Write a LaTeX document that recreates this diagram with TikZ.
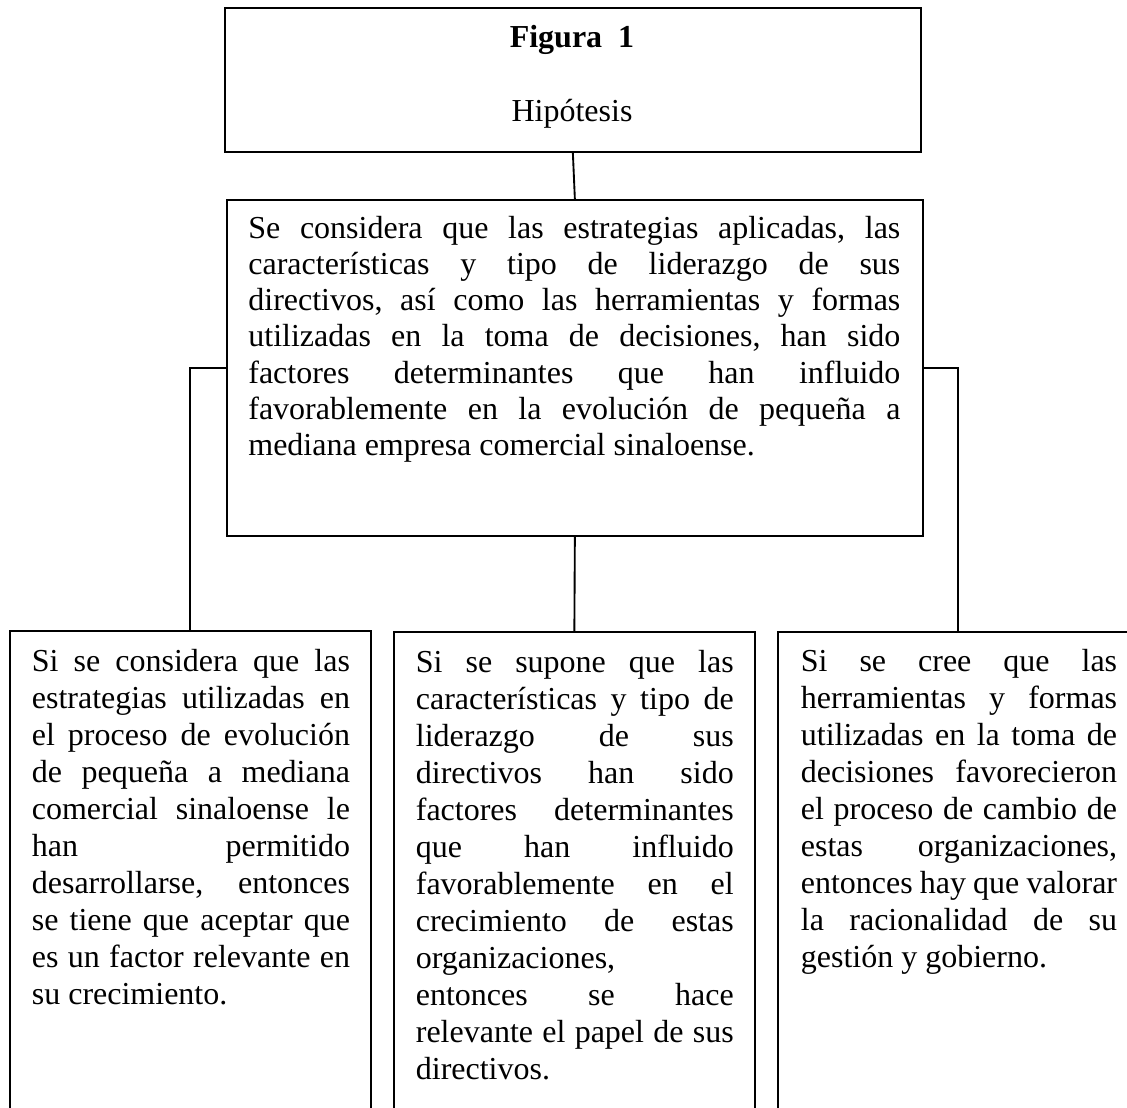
\documentclass[tikz,border=0pt]{standalone}
\usepackage{fontspec}
\setmainfont{Liberation Serif}
\newcommand\jline[1]{\hbox to \hsize{#1}}
\newcommand\lline[1]{\hbox{#1}}
\begin{document}
\begin{tikzpicture}[x=0.375pt,y=-0.375pt,line width=0.65pt,
  box/.style={draw,rectangle,inner sep=0pt,anchor=north west},
  txt/.style={inner sep=0pt,anchor=base west,font=\fontsize{12}{13.9}\selectfont},
  ttl/.style={inner sep=0pt,anchor=base,font=\fontsize{12}{13.7}\selectfont},
  link/.style={draw,line width=0.7pt}]
\useasboundingbox (0,0) rectangle (1127,1108);
\clip (0,0) rectangle (1127,1108);
% boxes
\node[box,minimum width=261pt,minimum height=54pt] (top) at (224,7) {};
\node[box,minimum width=261pt,minimum height=126pt] (main) at (226,199) {};
\node[box,minimum width=135.375pt,minimum height=190pt] (lb) at (9,630) {};
\node[box,minimum width=135.375pt,minimum height=190pt] (mb) at (393,631) {};
\node[box,minimum width=135.375pt,minimum height=190pt] (rb) at (777,631) {};
% title
\node[ttl] (fig) at (572,47) {\textbf{Figura\ \ 1}};
\node[ttl] (hip) at (572,121) {Hipótesis};
% main text
\node[txt,font=\fontsize{12}{13.6}\selectfont] (tmain) at (247.5,238) {\frenchspacing\vtop{\hsize=244.5pt
\jline{Se considera que las estrategias aplicadas, las}
\jline{características y tipo de liderazgo de sus}
\jline{directivos, así como las herramientas y formas}
\jline{utilizadas en la toma de decisiones, han sido}
\jline{factores determinantes que han influido}
\jline{favorablemente en la evolución de pequeña a}
\lline{mediana empresa comercial sinaloense.}}};
% left text
\node[txt] (tleft) at (31,671) {\frenchspacing\vtop{\hsize=119.3pt
\jline{Si se considera que las}
\jline{estrategias utilizadas en}
\jline{el proceso de evolución}
\jline{de pequeña a mediana}
\jline{comercial sinaloense le}
\jline{han permitido}
\jline{desarrollarse, entonces}
\jline{se tiene que aceptar que}
\jline{es un factor relevante en}
\lline{su crecimiento.}}};
% middle text
\node[txt] (tmid) at (415,672) {\frenchspacing\vtop{\hsize=119.2pt
\jline{Si se supone que las}
\jline{características y tipo de}
\jline{liderazgo de sus}
\jline{directivos han sido}
\jline{factores determinantes}
\jline{que han influido}
\jline{favorablemente en el}
\jline{crecimiento de estas}
\lline{organizaciones,}
\jline{entonces se hace}
\jline{relevante el papel de sus}
\lline{directivos.}}};
% right text
\node[txt] (tright) at (800,671) {\frenchspacing\vtop{\hsize=118.6pt
\jline{Si se cree que las}
\jline{herramientas y formas}
\jline{utilizadas en la toma de}
\jline{decisiones favorecieron}
\jline{el proceso de cambio de}
\jline{estas organizaciones,}
\jline{entonces hay que valorar}
\jline{la racionalidad de su}
\lline{gestión y gobierno.}}};
% connectors
\draw[link] (top.south) -- (main.north);
\draw[link] (main.west) -| (lb.north);
\draw[link] (main.south) -- (mb.north);
\draw[link] (main.east) -| (rb.north);
\end{tikzpicture}
\end{document}
